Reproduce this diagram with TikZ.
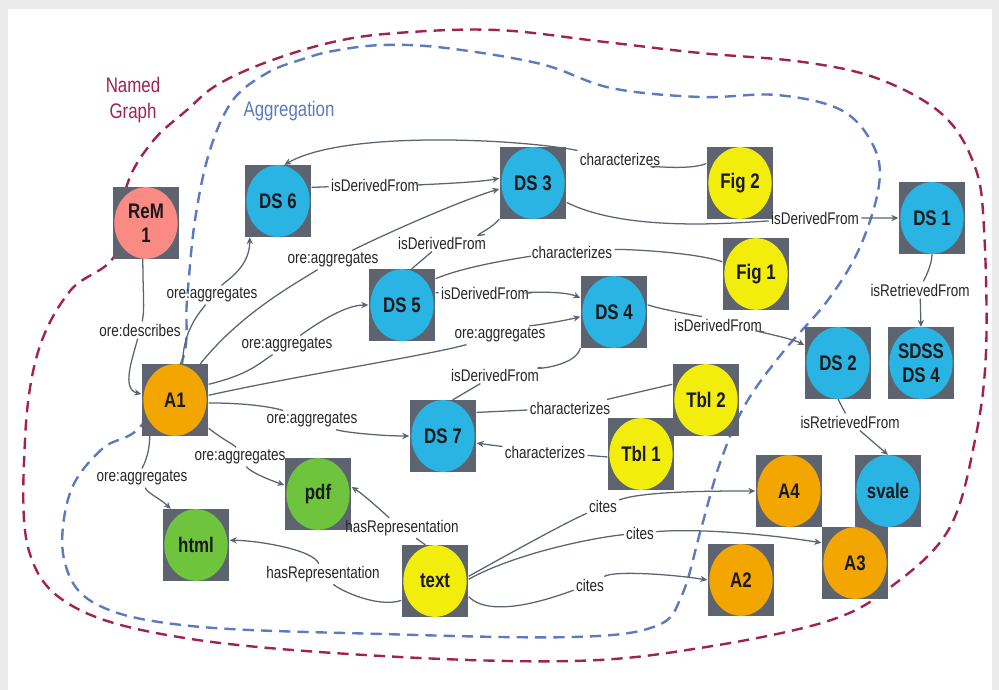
\documentclass[tikz,border=0pt]{standalone}
\usepackage{fontspec}
\setmainfont{Liberation Sans}
\newfontfamily\narrowsans[FakeStretch=0.8]{Liberation Sans}
\usetikzlibrary{arrows.meta}

\definecolor{boxgrey}{RGB}{93,100,112}
\definecolor{dsblue}{RGB}{42,180,228}
\definecolor{figyellow}{RGB}{242,237,10}
\definecolor{agorange}{RGB}{244,166,0}
\definecolor{repgreen}{RGB}{110,196,60}
\definecolor{rempink}{RGB}{250,138,132}
\definecolor{edgegrey}{RGB}{92,100,112}
\definecolor{graphred}{RGB}{160,34,82}
\definecolor{aggblue}{RGB}{92,122,192}

\begin{document}
\begin{tikzpicture}[
    x=0.025cm,y=-0.025cm,
    obj/.style={fill=boxgrey,minimum width=47.5pt,minimum height=51pt,inner sep=0pt,
                align=center,text=black!90,
                font=\narrowsans\bfseries\fontsize{15}{17}\selectfont,
                path picture={\fill[#1] (path picture bounding box.center) ellipse (22.5pt and 25.5pt);}},
    rel/.style={font=\narrowsans\fontsize{12}{12}\selectfont,inner sep=1.5pt,text=black!85},
    link/.style={draw=edgegrey,line width=0.9pt},
    arr/.style={link,-{Stealth[length=5pt,width=4.5pt]}},
    region/.style={line width=1.7pt,dash pattern=on 8pt off 5pt}]

  \useasboundingbox (0,0) rectangle (999,690);
  \fill[black!8] (0,0) rectangle (999,690);
  \fill[white] (8,9) rectangle (992,690);

  % dashed regions
  \draw[region,graphred] plot[smooth cycle,tension=0.6] coordinates {
    (127,185) (153,141) (187,110) (217,85) (267,62) (333,42) (397,33) (497,30)
    (605,42) (700,53) (803,62) (879,79) (943,115) (975,167) (984,229)
    (986,352) (975,440) (949,529) (892,586) (828,621) (700,648) (573,661)
    (382,656) (191,639) (76,608) (29,551) (25,440) (38,352) (70,291) (115,255)};
  \draw[region,aggblue] plot[smooth cycle,tension=0.6] coordinates {
    (140,427) (102,449) (70,493) (64,559) (96,604) (191,626) (382,634)
    (573,637) (656,626) (682,595) (701,529) (720,463) (745,405) (783,352)
    (828,300) (860,247) (879,185) (873,145) (841,110) (777,95) (700,97)
    (611,88) (541,64) (446,48) (383,45) (333,51) (300,60) (267,73) (233,100)
    (210,150) (195,220) (187,300) (182,361)};
  \node[text=graphred,align=center,font=\narrowsans\fontsize{15}{19}\selectfont]
    (lblGraph) at (133,100) {Named\\Graph};
  \node[text=aggblue,font=\narrowsans\fontsize{15}{17}\selectfont]
    (lblAgg) at (289,111) {Aggregation};

  % objects
  \node[obj=rempink] (rm1) at (146,223) {ReM\\1};
  \node[obj=dsblue] (ds6) at (278,201) {DS 6};
  \node[obj=dsblue] (ds3) at (533,183) {DS 3};
  \node[obj=figyellow] (fig2) at (740,183) {Fig 2};
  \node[obj=dsblue] (ds1) at (932,218) {DS 1};
  \node[obj=figyellow] (fig1) at (756,274) {Fig 1};
  \node[obj=dsblue] (ds5) at (402,305) {DS 5};
  \node[obj=dsblue] (ds4) at (614,312) {DS 4};
  \node[obj=dsblue] (ds2) at (838,363) {DS 2};
  \node[obj=dsblue] (sdss) at (921,363) {SDSS\\DS 4};
  \node[obj=agorange] (a1) at (175,400) {A1};
  \node[obj=dsblue] (ds7) at (443,436) {DS 7};
  \node[obj=figyellow] (tbl2) at (706,400) {Tbl 2};
  \node[obj=figyellow] (tbl1) at (641,454) {Tbl 1};
  \node[obj=repgreen] (pdf) at (318,494) {pdf};
  \node[obj=agorange] (a4) at (789,491) {A4};
  \node[obj=dsblue] (svale) at (888,491) {svale};
  \node[obj=repgreen] (html) at (196,545) {html};
  \node[obj=agorange] (a3) at (855,563) {A3};
  \node[obj=figyellow] (text) at (435,581) {text};
  \node[obj=agorange] (a2) at (741,580) {A2};

  % relation labels
  \node[rel] (lDescr) at (140,330) {ore:describes};
  \node[rel] (lAggDs6) at (212,295) {ore:aggregates};
  \node[rel] (lAggDs3) at (333,260) {ore:aggregates};
  \node[rel] (lAggDs5) at (287,345) {ore:aggregates};
  \node[rel] (lAggDs4) at (500,335) {ore:aggregates};
  \node[rel] (lAggDs7) at (312,420) {ore:aggregates};
  \node[rel] (lAggPdf) at (240,457) {ore:aggregates};
  \node[rel] (lAggHtml) at (142,478) {ore:aggregates};
  \node[rel] (lDerDs6) at (375,185) {isDerivedFrom};
  \node[rel] (lCharFig2) at (620,159) {characterizes};
  \node[rel] (lDerDs5) at (442,243) {isDerivedFrom};
  \node[rel] (lDerDs3) at (815,218) {isDerivedFrom};
  \node[rel] (lCharFig1) at (572,252) {characterizes};
  \node[rel] (lDerDs4) at (485,293) {isDerivedFrom};
  \node[rel] (lDerDs2) at (718,325) {isDerivedFrom};
  \node[rel] (lDerDs7) at (495,375) {isDerivedFrom};
  \node[rel] (lCharTbl2) at (570,408) {characterizes};
  \node[rel] (lCharTbl1) at (545,452) {characterizes};
  \node[rel] (lRetSdss) at (920,290) {isRetrievedFrom};
  \node[rel] (lRetSvale) at (850,422) {isRetrievedFrom};
  \node[rel] (lRepPdf) at (402,528) {hasRepresentation};
  \node[rel] (lRepHtml) at (323,574) {hasRepresentation};
  \node[rel] (lCiteA4) at (603,506) {cites};
  \node[rel] (lCiteA3) at (640,533) {cites};
  \node[rel] (lCiteA2) at (590,585) {cites};

  % ore edges
  \draw[arr] (rm1.265) .. controls +(0,35) and +(5,-20) .. (lDescr)
    .. controls +(-8,30) and +(-20,-5) .. (a1.170);
  \draw[arr] (a1.78) .. controls +(0,-35) and +(-10,15) .. (lAggDs6)
    .. controls +(15,-15) and +(0,30) .. (ds6.232);
  \draw[arr] (a1.55) .. controls +(40,-50) and +(-40,25) .. (lAggDs3)
    .. controls +(50,-25) and +(-40,12) .. (ds3.190);
  \draw[arr] (a1.25) .. controls +(40,-10) and +(-30,20) .. (lAggDs5)
    .. controls +(25,-18) and +(-25,0) .. (ds5.west);
  \draw[arr] (a1.8) .. controls +(90,-20) and +(-70,20) .. (lAggDs4)
    .. controls +(25,-8) and +(-20,5) .. (ds4.188);
  \draw[arr] (a1.-5) .. controls +(50,0) and +(-30,-10) .. (lAggDs7)
    .. controls +(30,12) and +(-30,0) .. (ds7.west);
  \draw[arr] (a1.-40) .. controls +(15,12) and +(-5,-12) .. (lAggPdf)
    .. controls +(10,15) and +(-15,-5) .. (pdf.165);
  \draw[arr] (a1.235) .. controls +(0,20) and +(0,-10) .. (lAggHtml)
    .. controls +(5,15) and +(-10,-10) .. (html.125);

  % provenance edges
  \draw[arr] (ds6.22) -- (lDerDs6) .. controls +(30,0) and +(-25,5) .. (ds3.172);
  \draw[arr] (fig2.150) .. controls +(-20,8) and +(20,5) .. (lCharFig2)
    .. controls +(-100,-20) and +(60,-35) .. (ds6.80);
  \draw[link] (ds5.75) -- (lDerDs5) .. controls +(25,-5) and +(-10,12) .. (ds3.south west);
  \draw[arr] (ds3.-30) .. controls +(60,30) and +(-80,5) .. (lDerDs3) -- (ds1.west);
  \draw[link] (ds5.38) .. controls +(35,-15) and +(-30,3) .. (lCharFig1)
    .. controls +(50,-3) and +(-30,-10) .. (fig1.160);
  \draw[arr] (ds5.20) -- (lDerDs4) .. controls +(25,0) and +(-20,-8) .. (ds4.157);
  \draw[arr] (ds4.12) .. controls +(15,5) and +(-15,-8) .. (lDerDs2)
    .. controls +(20,3) and +(-15,-8) .. (ds2.152);
  \draw[link] (ds7.75) -- (lDerDs7) .. controls +(30,-5) and +(-5,20) .. (ds4.south west);
  \draw[link] (ds7.35) -- (lCharTbl2) -- (tbl2.155);
  \draw[arr] (tbl1.185) -- (lCharTbl1) -- (ds7.-12);
  \draw[arr] (ds1.south) .. controls +(0,12) and +(3,-8) .. (lRetSdss) -- (sdss.north);
  \draw[arr] (ds2.south) -- (lRetSvale) -- (svale.north);

  % representation and citation edges
  \draw[arr] (text.105) -- (lRepPdf) .. controls +(-15,-12) and +(15,10) .. (pdf.12);
  \draw[arr] (text.210) .. controls +(-25,8) and +(15,15) .. (lRepHtml)
    .. controls +(-10,-25) and +(25,0) .. (html.8);
  \draw[arr] (text.8) .. controls +(45,-25) and +(-40,18) .. (lCiteA4)
    .. controls +(40,-15) and +(-40,0) .. (a4.west);
  \draw[arr] (text.3) .. controls +(45,-25) and +(-50,5) .. (lCiteA3)
    .. controls +(60,-5) and +(-50,-8) .. (a3.149);
  \draw[arr] (text.-25) .. controls +(25,25) and +(-25,8) .. (lCiteA2)
    .. controls +(25,-15) and +(-30,-5) .. (a2.west);
\end{tikzpicture}
\end{document}
